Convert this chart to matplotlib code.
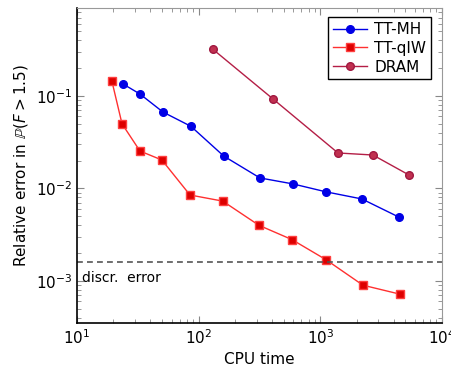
import matplotlib
matplotlib.use("Agg")
import matplotlib.pyplot as plt
from matplotlib.ticker import LogLocator, NullFormatter

# data
mh_time = [23.9, 33, 51, 86.5, 161, 319, 596, 1112, 2197, 4426]
mh_err = [0.135, 0.105, 0.067, 0.047, 0.0224, 0.013, 0.0112, 0.0092, 0.0077, 0.0049]
qiw_time = [19.4, 23.5, 33, 50, 85, 158, 313, 585, 1112, 2240, 4510]
qiw_err = [0.145, 0.050, 0.0254, 0.0203, 0.0085, 0.0073, 0.0040, 0.0028, 0.0017, 0.00090, 0.00072]
dram_time = [131, 408, 1397, 2704, 5346]
dram_err = [0.32, 0.093, 0.0242, 0.023, 0.014]
discr_err = 0.0016

plt.rcParams["font.family"] = ["DejaVu Sans"]
plt.rcParams["mathtext.fontset"] = "dejavusans"

fig = plt.figure(figsize=(4.52, 3.71), dpi=100)
ax = fig.add_axes([0.170, 0.129, 0.808, 0.849])

ax.plot(mh_time, mh_err, color="#0000e6", marker="o", ms=5.5, lw=1.0, label="TT-MH")
ax.plot(qiw_time, qiw_err, color="#ff3030", marker="s", ms=6, lw=1.0,
        mfc="#dd0000", mec="#ff4040", label="TT-qIW")
ax.plot(dram_time, dram_err, color="#b41e46", marker="o", ms=5.5, lw=1.0,
        mfc="#c03050", mec="#a01840", label="DRAM")
ax.axhline(discr_err, color="#555555", ls=(0, (3.5, 2.5)), lw=1.2)
ax.text(11, discr_err * 0.8, "discr.  error", fontsize=10, va="top", ha="left")

ax.set_xscale("log")
ax.set_yscale("log")
ax.set_xlim(10, 1e4)
ax.set_ylim(3.5e-4, 0.89)
ax.set_xticks([10, 100, 1000, 10000])
ax.set_yticks([1e-3, 1e-2, 1e-1])
ax.xaxis.set_minor_locator(LogLocator(base=10, subs=range(2, 10), numticks=20))
ax.yaxis.set_minor_locator(LogLocator(base=10, subs=range(2, 10), numticks=20))
ax.xaxis.set_minor_formatter(NullFormatter())
ax.yaxis.set_minor_formatter(NullFormatter())

ax.tick_params(which="both", direction="in", top=True, right=True, color="#888888")
ax.tick_params(which="major", length=5, labelsize=11)
ax.tick_params(which="minor", length=3)
for side in ["top", "right"]:
    ax.spines[side].set_color("#999999")
for side in ["left", "bottom"]:
    ax.spines[side].set_color("black")
    ax.spines[side].set_linewidth(1.2)

ax.set_xlabel("CPU time", fontsize=11, labelpad=4)
ax.set_ylabel(r"Relative error in $\mathbb{P}(F > 1.5)$", fontsize=11)

leg = ax.legend(loc="upper right", bbox_to_anchor=(0.99, 0.995), fontsize=11,
                fancybox=False, framealpha=1, edgecolor="black", handlelength=2.2,
                borderpad=0.3, labelspacing=0.25, handletextpad=0.5)
leg.get_frame().set_linewidth(1.0)

fig.savefig("out.png", dpi=100)
